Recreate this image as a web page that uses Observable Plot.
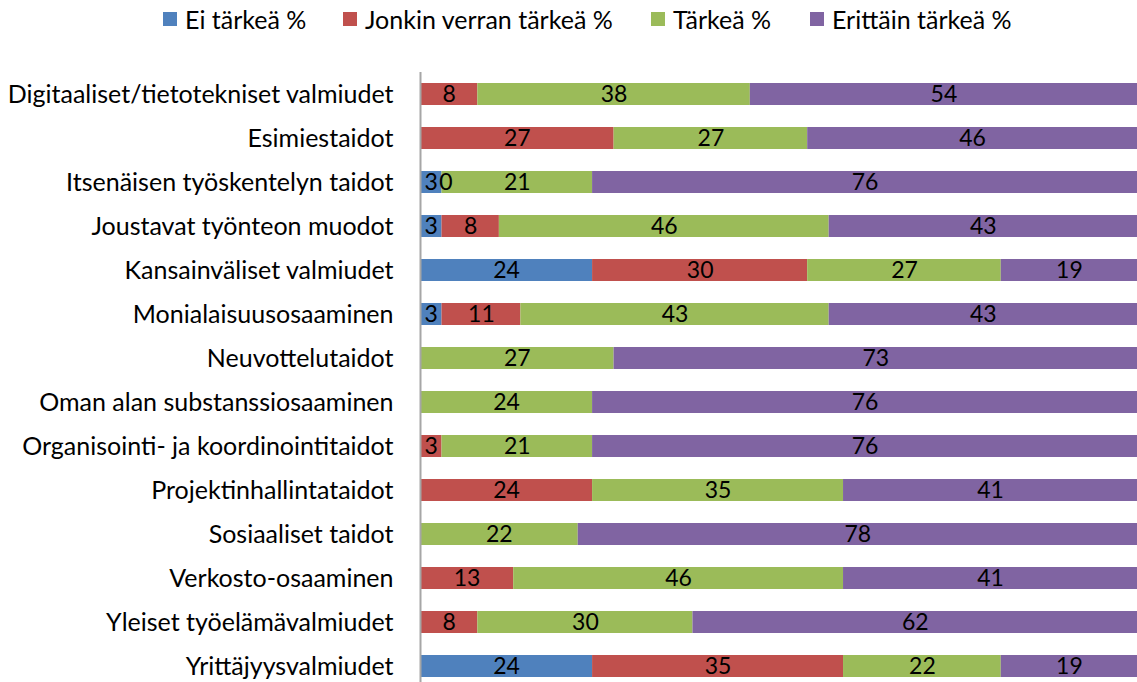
<!DOCTYPE html>
<html>
<head>
<meta charset="utf-8">
<script src="https://cdn.jsdelivr.net/npm/d3@7"></script>
<script src="https://cdn.jsdelivr.net/npm/@observablehq/plot@0.6"></script>
<style>
  html, body { margin: 0; padding: 0; background: #fff; overflow: hidden; }
  #wrap { position: relative; width: 1137px; height: 682px; font-family: Lato, "Open Sans", sans-serif; }
  #legend { position: absolute; top: 0; left: 0; width: 1137px; height: 40px; font-size: 25px; color: #000; }
  .item { position: absolute; top: 2px; height: 34px; display: flex; align-items: center; white-space: nowrap; }
  .sw { width: 14px; height: 14px; margin-right: 8px; }
  #chart { position: absolute; top: 40px; left: 0; }
</style>
</head>
<body>
<div id="wrap">
  <div id="legend"></div>
  <div id="chart"></div>
</div>
<script>
const categories = [
  "Digitaaliset/tietotekniset valmiudet",
  "Esimiestaidot",
  "Itsenäisen työskentelyn taidot",
  "Joustavat työnteon muodot",
  "Kansainväliset valmiudet",
  "Monialaisuusosaaminen",
  "Neuvottelutaidot",
  "Oman alan substanssiosaaminen",
  "Organisointi- ja koordinointitaidot",
  "Projektinhallintataidot",
  "Sosiaaliset taidot",
  "Verkosto-osaaminen",
  "Yleiset työelämävalmiudet",
  "Yrittäjyysvalmiudet"
];
const seriesNames = ["Ei tärkeä %", "Jonkin verran tärkeä %", "Tärkeä %", "Erittäin tärkeä %"];
const seriesColors = ["#4F81BD", "#C0504D", "#9BBB59", "#8064A2"];
const eiTarkea      = [null, null, 3, 3, 24, 3, null, null, null, null, null, null, null, 24];
const jonkinVerran  = [8, 27, 0, 8, 30, 11, null, null, 3, 24, null, 13, 8, 35];
const tarkea        = [38, 27, 21, 46, 27, 43, 27, 24, 21, 35, 22, 46, 30, 22];
const erittainTarkea= [54, 46, 76, 43, 19, 43, 73, 76, 76, 41, 78, 41, 62, 19];
const legendLeft = [163, 343, 651, 810];

const seriesValues = [eiTarkea, jonkinVerran, tarkea, erittainTarkea];
const rows = [];
categories.forEach((c, i) => {
  seriesNames.forEach((s, j) => {
    const v = seriesValues[j][i];
    if (v !== null) rows.push({category: c, series: s, value: v});
  });
});

// legend
const legend = document.getElementById("legend");
seriesNames.forEach((s, j) => {
  const it = document.createElement("div");
  it.className = "item";
  it.style.left = legendLeft[j] + "px";
  const sw = document.createElement("span");
  sw.className = "sw";
  sw.style.background = seriesColors[j];
  const tx = document.createElement("span");
  tx.textContent = s;
  it.appendChild(sw); it.appendChild(tx);
  legend.appendChild(it);
});

const stackOpts = {y: "category", x: "value", z: "series", order: seriesNames};

const plot = Plot.plot({
  width: 1137,
  height: 648,
  marginTop: 32,
  marginBottom: 0,
  marginLeft: 420,
  marginRight: 0,
  style: {fontFamily: "Lato, 'Open Sans', sans-serif", fontSize: "25px", color: "#000", background: "#fff"},
  x: {domain: [0, 100], axis: null},
  y: {domain: categories, paddingInner: 0.5, paddingOuter: 0.25, axis: null},
  color: {domain: seriesNames, range: seriesColors},
  marks: [
    Plot.barX(rows, Plot.stackX({...stackOpts, fill: "series"})),
    Plot.text(rows, Plot.stackX({...stackOpts, text: d => d.value !== 0 ? String(d.value) : "", fill: "#000", fontSize: 23, dx: 0})),
    Plot.text(rows, Plot.stackX({...stackOpts, text: d => d.value === 0 ? String(d.value) : "", fill: "#000", fontSize: 23, dx: 4})),
    Plot.axisY({tickSize: 0, tickPadding: 27, fontSize: 25, label: null, fill: "#000"}),
    Plot.ruleX([0], {stroke: "#a6a6a6", strokeWidth: 2})
  ]
});
document.getElementById("chart").appendChild(plot);
</script>
</body>
</html>
